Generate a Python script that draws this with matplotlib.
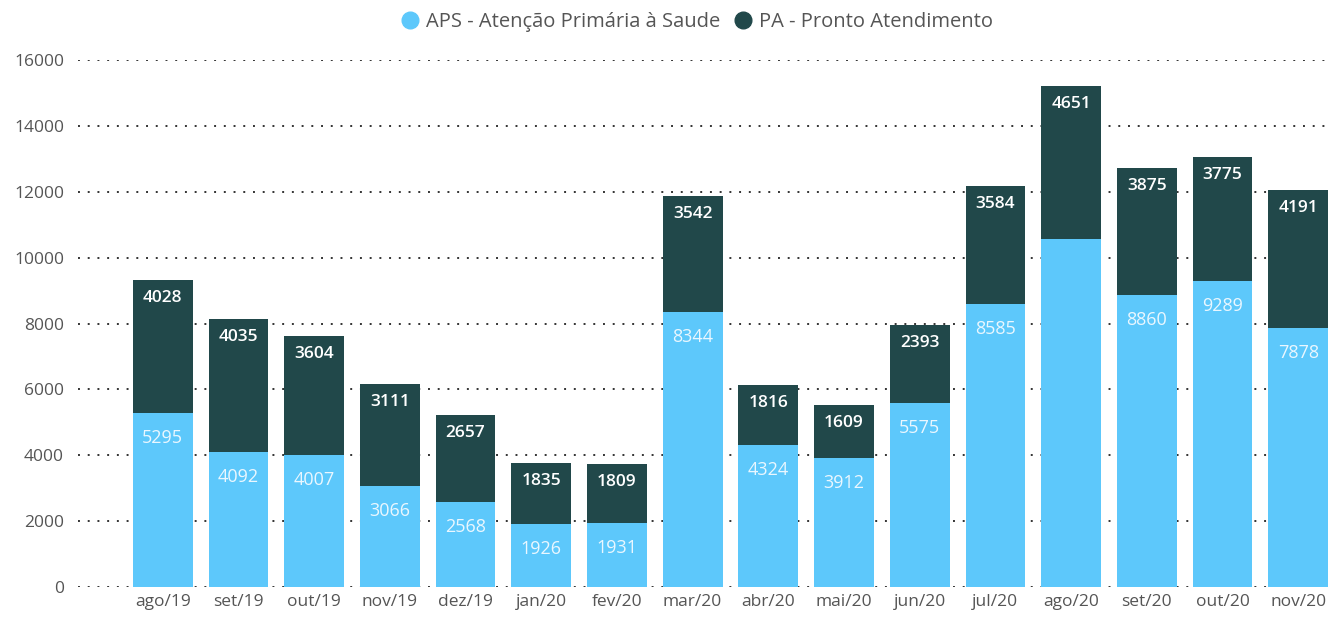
import matplotlib.pyplot as plt
from matplotlib.lines import Line2D

months = ['ago/19', 'set/19', 'out/19', 'nov/19', 'dez/19', 'jan/20', 'fev/20', 'mar/20',
          'abr/20', 'mai/20', 'jun/20', 'jul/20', 'ago/20', 'set/20', 'out/20', 'nov/20']
aps = [5295, 4092, 4007, 3066, 2568, 1926, 1931, 8344, 4324, 3912, 5575, 8585, 10565, 8860, 9289, 7878]
pa = [4028, 4035, 3604, 3111, 2657, 1835, 1809, 3542, 1816, 1609, 2393, 3584, 4651, 3875, 3775, 4191]
# the reference shows no value on the blue segment of ago/20
aps_shown = [True] * 12 + [False] + [True] * 3
yticks = [0, 2000, 4000, 6000, 8000, 10000, 12000, 14000, 16000]

c_aps = '#5DC8FB'
c_pa = '#21484A'

plt.rcParams['font.family'] = ['Open Sans', 'DejaVu Sans']

fig = plt.figure(figsize=(13.3, 6.19), dpi=100)
ax = fig.add_axes([0.0586, 0.0517, 0.9414, 0.8513])

x = list(range(len(months)))
ax.bar(x, aps, width=0.79, color=c_aps, zorder=2)
ax.bar(x, pa, width=0.79, bottom=aps, color=c_pa, zorder=2)

for i in x:
    if aps_shown[i]:
        ax.annotate(str(aps[i]), (i, aps[i]), xytext=(0, -18), textcoords='offset points',
                    ha='center', va='center', color='#EAF7FF', fontsize=13)
    ax.annotate(str(pa[i]), (i, aps[i] + pa[i]), xytext=(0, -13), textcoords='offset points',
                ha='center', va='center', color='white', fontsize=12.5, fontweight='semibold')

ax.set_xlim(-1.12, 15.42)
ax.set_ylim(0, 16000)
ax.set_yticks(yticks)
ax.set_yticklabels([str(v) for v in yticks])
ax.set_xticks(x)
ax.set_xticklabels(months)
ax.tick_params(axis='both', length=0, labelsize=12.5, colors='#555555')
ax.tick_params(axis='y', pad=10)
ax.tick_params(axis='x', pad=5)
ax.yaxis.grid(True, linestyle=(0, (1, 4)), linewidth=1.4, color='#333333', zorder=1)
for s in ax.spines.values():
    s.set_visible(False)

handles = [Line2D([], [], marker='o', ls='', color=c_aps, markersize=12),
           Line2D([], [], marker='o', ls='', color=c_pa, markersize=12)]
fig.legend(handles, ['APS - Atenção Primária à Saude', 'PA - Pronto Atendimento'],
           loc='center', bbox_to_anchor=(0.52, 0.964), ncol=2, frameon=False,
           fontsize=14.5, handletextpad=-0.2, columnspacing=0.1, labelcolor='#555555')

fig.savefig('out.png', dpi=100)
